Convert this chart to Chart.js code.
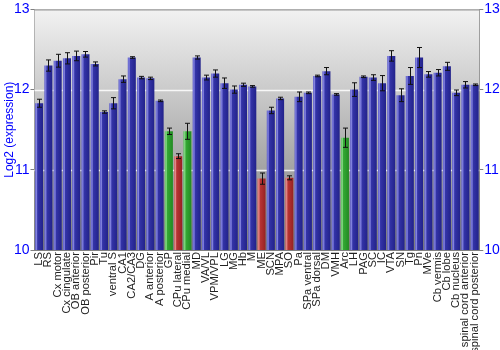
<!DOCTYPE html>
<html>
<head>
<meta charset="utf-8">
<script src="https://cdn.jsdelivr.net/npm/chart.js@4.4.0/dist/chart.umd.min.js"></script>
<style>
  html, body { margin: 0; padding: 0; background: #fff; }
  #wrap { width: 500px; height: 350px; }
</style>
</head>
<body>
<div id="wrap"><canvas id="chart" width="500" height="350"></canvas></div>
<script>
// Brain regions and their mean log2 expression with error
const regions = ['LS', 'RS', 'Cx motor', 'Cx cingulate', 'OB anterior', 'OB posterior', 'Pir', 'Tu',
  'ventral S', 'CA1', 'CA2/CA3', 'DG', 'A anterior', 'A posterior', 'GP', 'CPu lateral', 'CPu medial',
  'MD', 'VA/VL', 'VPM/VPL', 'LG', 'MG', 'Hb', 'M', 'ME', 'SCN', 'MPA', 'SO', 'Pa', 'SPa ventral',
  'SPa dorsal', 'DM', 'VMH', 'Arc', 'LH', 'PAG', 'SC', 'IC', 'VTA', 'SN', 'Tg', 'Pn', 'MVe',
  'Cb vermis', 'Cb lobe', 'Cb nucleus', 'spinal cord anterior', 'spinal cord posterior'];
const expression = [11.83, 12.30, 12.36, 12.39, 12.42, 12.44, 12.32, 11.72,
  11.83, 12.13, 12.40, 12.15, 12.14, 11.86, 11.48, 11.17, 11.48,
  12.40, 12.15, 12.20, 12.08, 12.00, 12.06, 12.04, 10.89, 11.74, 11.89, 10.90, 11.91, 11.96,
  12.17, 12.23, 11.94, 11.40, 12.00, 12.16, 12.15, 12.08, 12.42, 11.93, 12.17, 12.40, 12.19,
  12.21, 12.29, 11.96, 12.06, 12.06];
const errors = [0.05, 0.07, 0.08, 0.07, 0.06, 0.035, 0.025, 0.015,
  0.07, 0.04, 0.01, 0.015, 0.015, 0.01, 0.04, 0.03, 0.10,
  0.02, 0.03, 0.045, 0.065, 0.045, 0.02, 0.01, 0.07, 0.04, 0.015, 0.025, 0.06, 0.01,
  0.01, 0.045, 0.01, 0.12, 0.085, 0.01, 0.035, 0.095, 0.065, 0.08, 0.105, 0.125, 0.035,
  0.04, 0.05, 0.035, 0.04, 0.01];
// b = normal, r = low, g = elevated
const groups = ['b', 'b', 'b', 'b', 'b', 'b', 'b', 'b',
  'b', 'b', 'b', 'b', 'b', 'b', 'g', 'r', 'g',
  'b', 'b', 'b', 'b', 'b', 'b', 'b', 'r', 'b', 'b', 'r', 'b', 'b',
  'b', 'b', 'b', 'g', 'b', 'b', 'b', 'b', 'b', 'b', 'b', 'b', 'b',
  'b', 'b', 'b', 'b', 'b'];
const yTicks = [10, 11, 12, 13];

const palette = {
  b: ['#5a5ac8', '#8484e0', '#3434a8', '#22228a'],
  r: ['#d06060', '#e08a8a', '#b83434', '#962222'],
  g: ['#5cc05c', '#86d886', '#34a834', '#228a22']
};

function barFill(context) {
  const chart = context.chart;
  const xs = chart.scales.x;
  if (!chart.chartArea || !xs) return palette[groups[context.dataIndex]][2];
  const cx = xs.getPixelForValue(context.dataIndex);
  const half = xs.width / regions.length * 0.87 / 2;
  const c = palette[groups[context.dataIndex]];
  const g = chart.ctx.createLinearGradient(cx - half, 0, cx + half, 0);
  g.addColorStop(0, c[0]);
  g.addColorStop(0.18, c[1]);
  g.addColorStop(0.32, c[2]);
  g.addColorStop(1, c[3]);
  return g;
}

// grey gradient behind the bars plus frame on top
const backdrop = {
  id: 'backdrop',
  beforeDatasetsDraw(chart) {
    const { ctx, chartArea: a } = chart;
    const g = ctx.createLinearGradient(0, a.top, 0, a.bottom);
    g.addColorStop(0, '#f2f2f2');
    g.addColorStop(1, '#7c7c7c');
    ctx.save();
    ctx.fillStyle = g;
    ctx.fillRect(a.left, a.top, a.right - a.left, a.bottom - a.top);
    ctx.strokeStyle = 'rgba(255,255,255,0.85)';
    ctx.lineWidth = 1.5;
    const y = chart.scales.y;
    [11, 12].forEach(v => {
      const py = Math.round(y.getPixelForValue(v)) + 0.5;
      ctx.beginPath();
      ctx.moveTo(a.left, py);
      ctx.lineTo(a.right, py);
      ctx.stroke();
    });
    ctx.restore();
  },
  afterDraw(chart) {
    const { ctx, chartArea: a } = chart;
    ctx.save();
    ctx.strokeStyle = '#808080';
    ctx.lineWidth = 1;
    ctx.beginPath();
    ctx.moveTo(a.left, a.top + 0.5);
    ctx.lineTo(a.right, a.top + 0.5);
    ctx.stroke();
    ctx.restore();
  }
};

const errorBars = {
  id: 'errorBars',
  afterDatasetsDraw(chart) {
    const { ctx } = chart;
    const xs = chart.scales.x, ys = chart.scales.y;
    ctx.save();
    ctx.strokeStyle = '#111';
    ctx.lineWidth = 1;
    expression.forEach((v, i) => {
      const x = Math.round(xs.getPixelForValue(i)) + 0.5;
      const hi = ys.getPixelForValue(v + errors[i]);
      const lo = ys.getPixelForValue(v - errors[i]);
      ctx.beginPath();
      ctx.moveTo(x, hi); ctx.lineTo(x, lo);
      ctx.moveTo(x - 2.5, hi); ctx.lineTo(x + 2.5, hi);
      ctx.moveTo(x - 2.5, lo); ctx.lineTo(x + 2.5, lo);
      ctx.stroke();
    });
    ctx.restore();
  }
};

const tickFont = { family: 'Liberation Sans, Arial, sans-serif', size: 14 };

new Chart(document.getElementById('chart'), {
  type: 'bar',
  data: {
    labels: regions,
    datasets: [{
      data: expression,
      backgroundColor: barFill,
      borderWidth: 0,
      barPercentage: 0.87,
      categoryPercentage: 1.0
    }]
  },
  options: {
    responsive: false,
    animation: false,
    layout: { padding: { top: 9, left: 2, right: 0, bottom: 0 } },
    plugins: { legend: { display: false }, tooltip: { enabled: false } },
    scales: {
      x: {
        grid: { display: false, drawTicks: false },
        border: { color: '#808080' },
        ticks: {
          autoSkip: false, minRotation: 90, maxRotation: 90, padding: 2,
          color: '#222', font: { family: 'Liberation Sans, Arial, sans-serif', size: 11.2 }
        },
        afterFit(s) { s.height = 100; }
      },
      y: {
        min: 10, max: 13,
        afterBuildTicks(s) { s.ticks = yTicks.map(v => ({ value: v })); },
        grid: { drawOnChartArea: false, tickLength: 4, tickColor: '#808080' },
        border: { color: '#808080' },
        ticks: { color: '#0000ff', font: tickFont, padding: 1 },
        title: {
          display: true, text: 'Log2 (expression)', color: '#0000ff',
          font: { family: 'Liberation Sans, Arial, sans-serif', size: 12 }, padding: 0
        },
        afterFit(s) { s.width = 32.5; }
      },
      y2: {
        position: 'right',
        min: 10, max: 13,
        afterBuildTicks(s) { s.ticks = yTicks.map(v => ({ value: v })); },
        grid: { drawOnChartArea: false, tickLength: 4, tickColor: '#808080' },
        border: { color: '#808080' },
        ticks: { color: '#0000ff', font: tickFont, padding: 1 },
        afterFit(s) { s.width = 20.7; }
      }
    }
  },
  plugins: [backdrop, errorBars]
});
</script>
</body>
</html>
